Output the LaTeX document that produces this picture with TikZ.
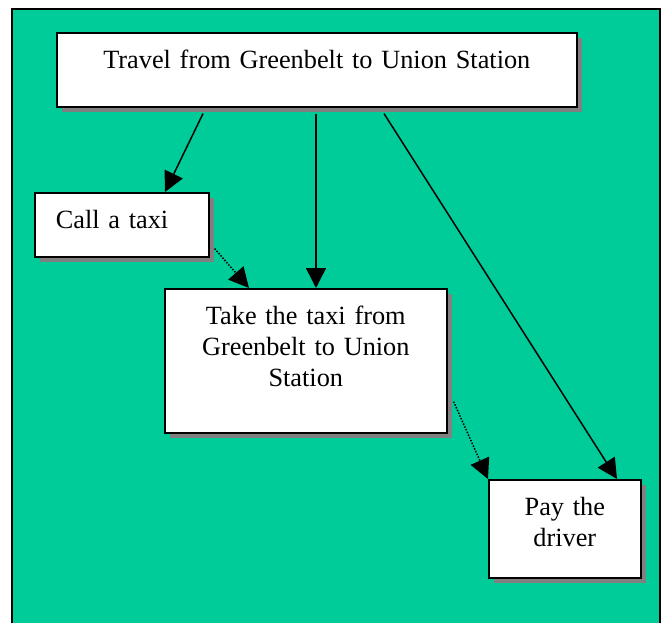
\documentclass[tikz,border=0pt]{standalone}
\usepackage{fontspec}
\setmainfont{Liberation Serif}
\usetikzlibrary{arrows.meta, calc, shadows}
\definecolor{bggreen}{RGB}{0, 204, 153}
\definecolor{shadowgray}{RGB}{128, 128, 128}

\tikzset{
	task/.style={draw=black, line width=1.6pt, fill=white, anchor=north west, inner ysep=0pt, text height=36pt,
		font=\fontsize{26.3}{31}\selectfont,
		drop shadow={shadow xshift=5pt, shadow yshift=-5pt, fill=shadowgray, opacity=1}},
	dotarrow/.style={->, line width=1.5pt, dash pattern=on 1.5pt off 1.5pt},
}

\begin{document}
\begin{tikzpicture}[x=1pt, y=1pt, line width=1.5pt, >={Triangle[length=20pt,width=20pt]}]
	\useasboundingbox (0,0) rectangle (662,-623);
	\fill[bggreen] (12,-9) rectangle (660,-640);
	\draw[line width=1.2pt] (12,-640) -- (12,-9) -- (660,-9) -- (660,-640);
	
	\node[task, inner xsep=20pt, text width=480pt, align=center, text depth=38pt] (travel) at (56,-32) {Travel from Greenbelt to Union Station};
	\node[task, inner xsep=21pt, text width=132pt, align=left, text depth=28pt] (call) at (34,-192) {Call a taxi};
	\node[task, inner xsep=21pt, text width=240pt, align=center, text depth=108pt] (take) at (164,-288) {Take the taxi from\\Greenbelt to Union\\Station};
	\node[task, inner xsep=15pt, text width=122pt, align=center, text depth=62pt] (pay) at (488,-479) {Pay the\\driver};
	
	\draw[->] ($(travel.south west)+(147,-6)$) -- ($(call.north west)+(131,0)$);
	\draw[->] ($(travel.south west)+(260,-6)$) -- ($(take.north west)+(152,0)$);
	\draw[->] ($(travel.south west)+(328,-6)$) -- ($(pay.north west)+(129,0)$);
	\draw[dotarrow] ($(call.south east)+(5,9)$) -- ($(take.north west)+(85,0)$);
	\draw[dotarrow] ($(take.south east)+(6,32)$) -- (pay.north west);
\end{tikzpicture}
\end{document}
